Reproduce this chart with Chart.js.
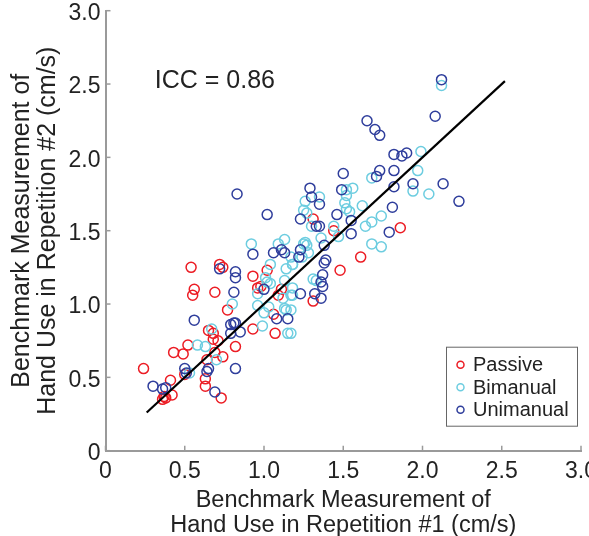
<!DOCTYPE html>
<html>
<head>
<meta charset="utf-8">
<script src="https://cdn.jsdelivr.net/npm/chart.js@4/dist/chart.umd.min.js"></script>
<style>
  html, body { margin: 0; padding: 0; background: #fff; }
  #wrap { width: 589px; height: 536px; }
</style>
</head>
<body>
<div id="wrap"><canvas id="icc"></canvas></div>
<script>
const tickValues = [0, 0.5, 1.0, 1.5, 2.0, 2.5, 3.0];
const tickLabels = ['0', '0.5', '1.0', '1.5', '2.0', '2.5', '3.0'];
const seriesNames = ['Passive', 'Bimanual', 'Unimanual'];

const passive = [
    [0.24, 0.56], [0.41, 0.48], [0.36, 0.35], [0.37, 0.37], [0.38, 0.36], [0.42, 0.38],
    [0.43, 0.67], [0.49, 0.66], [0.52, 0.72], [0.50, 0.52], [0.63, 0.49], [0.63, 0.44],
    [0.73, 0.36], [0.64, 0.62], [0.65, 0.82], [0.68, 0.80], [0.68, 0.76], [0.71, 0.75],
    [0.69, 0.67], [0.74, 0.64], [0.82, 0.71], [0.77, 0.96], [0.93, 0.83], [1.06, 0.93],
    [1.07, 0.80], [0.54, 1.25], [0.72, 1.27], [0.74, 1.25], [0.56, 1.10], [0.55, 1.06],
    [0.69, 1.08], [0.93, 1.19], [1.02, 1.23], [0.96, 1.11], [0.98, 1.12], [1.11, 1.10],
    [1.09, 1.06], [1.31, 1.58], [1.44, 1.50], [1.86, 1.52], [1.61, 1.32], [1.48, 1.23],
    [1.31, 1.02],
];

const bimanual = [
    [0.80, 1.00], [0.67, 0.83], [0.58, 0.72], [0.63, 0.71], [0.70, 0.62], [0.53, 0.53],
    [0.96, 0.99], [1.00, 0.94], [1.03, 0.98], [1.13, 0.97], [1.14, 0.96], [0.99, 0.85],
    [1.15, 0.80], [0.92, 1.41], [1.09, 1.41], [1.13, 1.44], [1.04, 1.27], [1.14, 1.24],
    [1.18, 1.27], [1.01, 1.18], [1.02, 1.15], [1.04, 1.14], [1.13, 1.16], [1.12, 1.04],
    [1.18, 1.06], [0.96, 1.07], [1.25, 1.41], [1.24, 1.32], [1.26, 1.70], [1.25, 1.64],
    [1.27, 1.62], [1.51, 1.69], [1.52, 1.65], [1.54, 1.63], [1.62, 1.67], [1.30, 1.53],
    [1.44, 1.53], [1.47, 1.46], [1.36, 1.45], [1.26, 1.42], [1.27, 1.40], [1.28, 1.35],
    [1.17, 1.32], [1.18, 1.27], [1.64, 1.53], [1.68, 1.56], [1.74, 1.60], [1.68, 1.41],
    [1.74, 1.39], [1.31, 1.17], [1.33, 1.16], [1.18, 1.11], [1.17, 1.06], [1.17, 0.96],
    [1.17, 0.80], [2.12, 2.49], [1.99, 2.04], [1.97, 1.91], [1.94, 1.77], [2.04, 1.75],
    [1.68, 1.86], [1.56, 1.79], [1.52, 1.78], [1.52, 1.74], [1.35, 1.73],
];

const unimanual = [
    [0.56, 0.89], [0.30, 0.44], [0.36, 0.42], [0.38, 0.43], [0.50, 0.56], [0.51, 0.53],
    [0.65, 0.56], [0.64, 0.54], [0.69, 0.40], [0.82, 0.56], [0.79, 0.86], [0.81, 0.87],
    [0.82, 0.87], [0.79, 0.80], [0.85, 0.81], [1.08, 0.90], [1.15, 0.90], [0.83, 1.75],
    [1.02, 1.61], [1.23, 1.58], [0.93, 1.34], [1.06, 1.35], [1.11, 1.37], [1.13, 1.35],
    [1.23, 1.37], [1.22, 1.32], [0.72, 1.24], [0.82, 1.22], [0.82, 1.18], [0.81, 1.08],
    [1.00, 1.10], [1.23, 1.07], [1.35, 1.68], [1.46, 1.61], [1.55, 1.57], [1.55, 1.48],
    [1.33, 1.53], [1.35, 1.53], [1.81, 1.66], [1.79, 1.49], [2.23, 1.70], [1.38, 1.40],
    [1.39, 1.30], [1.38, 1.28], [1.37, 1.20], [1.36, 1.15], [1.37, 1.12], [1.32, 1.07],
    [1.36, 1.04], [2.12, 2.53], [2.08, 2.28], [1.65, 2.25], [1.70, 2.19], [1.73, 2.15],
    [1.82, 2.02], [1.87, 2.01], [1.90, 2.03], [1.73, 1.91], [1.71, 1.87], [1.82, 1.91],
    [1.50, 1.89], [1.29, 1.79], [1.49, 1.78], [1.30, 1.73], [1.82, 1.80], [1.94, 1.82],
    [2.13, 1.82],
];

// identity line drawn through the cloud
const fitLine = [[0.26, 0.26], [2.52, 2.52]];
const iccText = 'ICC = 0.86';
const iccAt = [0.69, 2.52];

const colors = ['#ec1c24', '#6dcde0', '#2f3e9c'];
const FONT = '"Liberation Sans", Arial, Helvetica, sans-serif';
const AXIS_GREY = '#9a9a9a';

const toPts = (arr) => arr.map(([x, y]) => ({ x, y }));

const innerTicks = {
    id: 'innerTicks',
    afterDatasetsDraw(chart) {
        const { ctx, chartArea, scales } = chart;
        ctx.save();
        ctx.strokeStyle = AXIS_GREY;
        ctx.lineWidth = 1.5;
        tickValues.forEach((v) => {
            const px = scales.x.getPixelForValue(v);
            ctx.beginPath();
            ctx.moveTo(px, chartArea.bottom);
            ctx.lineTo(px, chartArea.bottom - 5);
            ctx.stroke();
            const py = scales.y.getPixelForValue(v);
            ctx.beginPath();
            ctx.moveTo(chartArea.left, py);
            ctx.lineTo(chartArea.left + 5, py);
            ctx.stroke();
        });
        ctx.restore();
    },
};

const annotations = {
    id: 'annotations',
    afterDraw(chart) {
        const { ctx, chartArea, scales } = chart;
        ctx.save();

        // ICC label
        ctx.fillStyle = '#222';
        ctx.font = `25px ${FONT}`;
        ctx.textAlign = 'center';
        ctx.textBaseline = 'middle';
        ctx.fillText(iccText, scales.x.getPixelForValue(iccAt[0]), scales.y.getPixelForValue(iccAt[1]));

        // legend box
        const w = 131, h = 79;
        const x0 = chartArea.right - 4 - w;
        const y0 = chartArea.bottom - 25 - h;
        ctx.fillStyle = '#fff';
        ctx.fillRect(x0, y0, w, h);
        ctx.strokeStyle = '#666';
        ctx.lineWidth = 1;
        ctx.strokeRect(x0 + 0.5, y0 + 0.5, w, h);

        ctx.font = `20px ${FONT}`;
        ctx.textAlign = 'left';
        seriesNames.forEach((name, i) => {
            const cy = y0 + 18 + i * 22.5;
            ctx.beginPath();
            ctx.arc(x0 + 14.5, cy, 3.5, 0, Math.PI * 2);
            ctx.strokeStyle = colors[i];
            ctx.lineWidth = 1.5;
            ctx.stroke();
            ctx.fillStyle = '#222';
            ctx.fillText(name, x0 + 27, cy + 1);
        });
        ctx.restore();
    },
};

function axis(title, isX) {
    return {
        type: 'linear',
        min: 0,
        max: 3,
        afterBuildTicks: (s) => { s.ticks = tickValues.map((value) => ({ value })); },
        afterFit: (s) => {
            if (isX) {
                s.height = 85.3;
                s.paddingLeft = 0;
                s.paddingRight = 0;
            } else {
                s.width = 105.5;
                s.paddingTop = 0;
                s.paddingBottom = 0;
            }
        },
        grid: { display: false, drawTicks: false },
        border: { display: true, color: AXIS_GREY, width: 2 },
        ticks: {
            color: '#222',
            font: { family: FONT, size: 23 },
            padding: isX ? 7 : 5,
            labelOffset: isX ? 0 : 3,
            maxRotation: 0,
            autoSkip: false,
            callback: (v) => tickLabels[tickValues.indexOf(v)],
        },
        title: {
            display: true,
            text: title,
            color: '#222',
            font: isX
                ? { family: FONT, size: 23.5, lineHeight: 1.05 }
                : { family: FONT, size: 25, lineHeight: 1.05 },
            padding: isX ? { top: 0, bottom: -1.5 } : { top: 9, bottom: 0 },
        },
    };
}

const series = [passive, bimanual, unimanual];

new Chart(document.getElementById('icc'), {
    data: {
        datasets: [
            {
                type: 'line',
                data: toPts(fitLine),
                borderColor: '#000',
                borderWidth: 2.2,
                pointRadius: 0,
                fill: false,
                order: 0,
            },
            ...series.map((pts, i) => ({
                type: 'scatter',
                label: seriesNames[i],
                data: toPts(pts),
                borderColor: colors[i],
                backgroundColor: 'rgba(0,0,0,0)',
                pointRadius: 5,
                pointBorderWidth: 1.5,
                order: 3 - i,
            })),
        ],
    },
    options: {
        responsive: true,
        maintainAspectRatio: false,
        animation: false,
        layout: { padding: { top: 10.7, right: 8, left: 0, bottom: 0 } },
        plugins: {
            legend: { display: false },
            tooltip: { enabled: false },
        },
        scales: {
            x: axis(['Benchmark Measurement of', 'Hand Use in Repetition #1 (cm/s)'], true),
            y: axis(['Benchmark Measurement of', 'Hand Use in Repetition #2 (cm/s)'], false),
        },
    },
    plugins: [innerTicks, annotations],
});
</script>
</body>
</html>
